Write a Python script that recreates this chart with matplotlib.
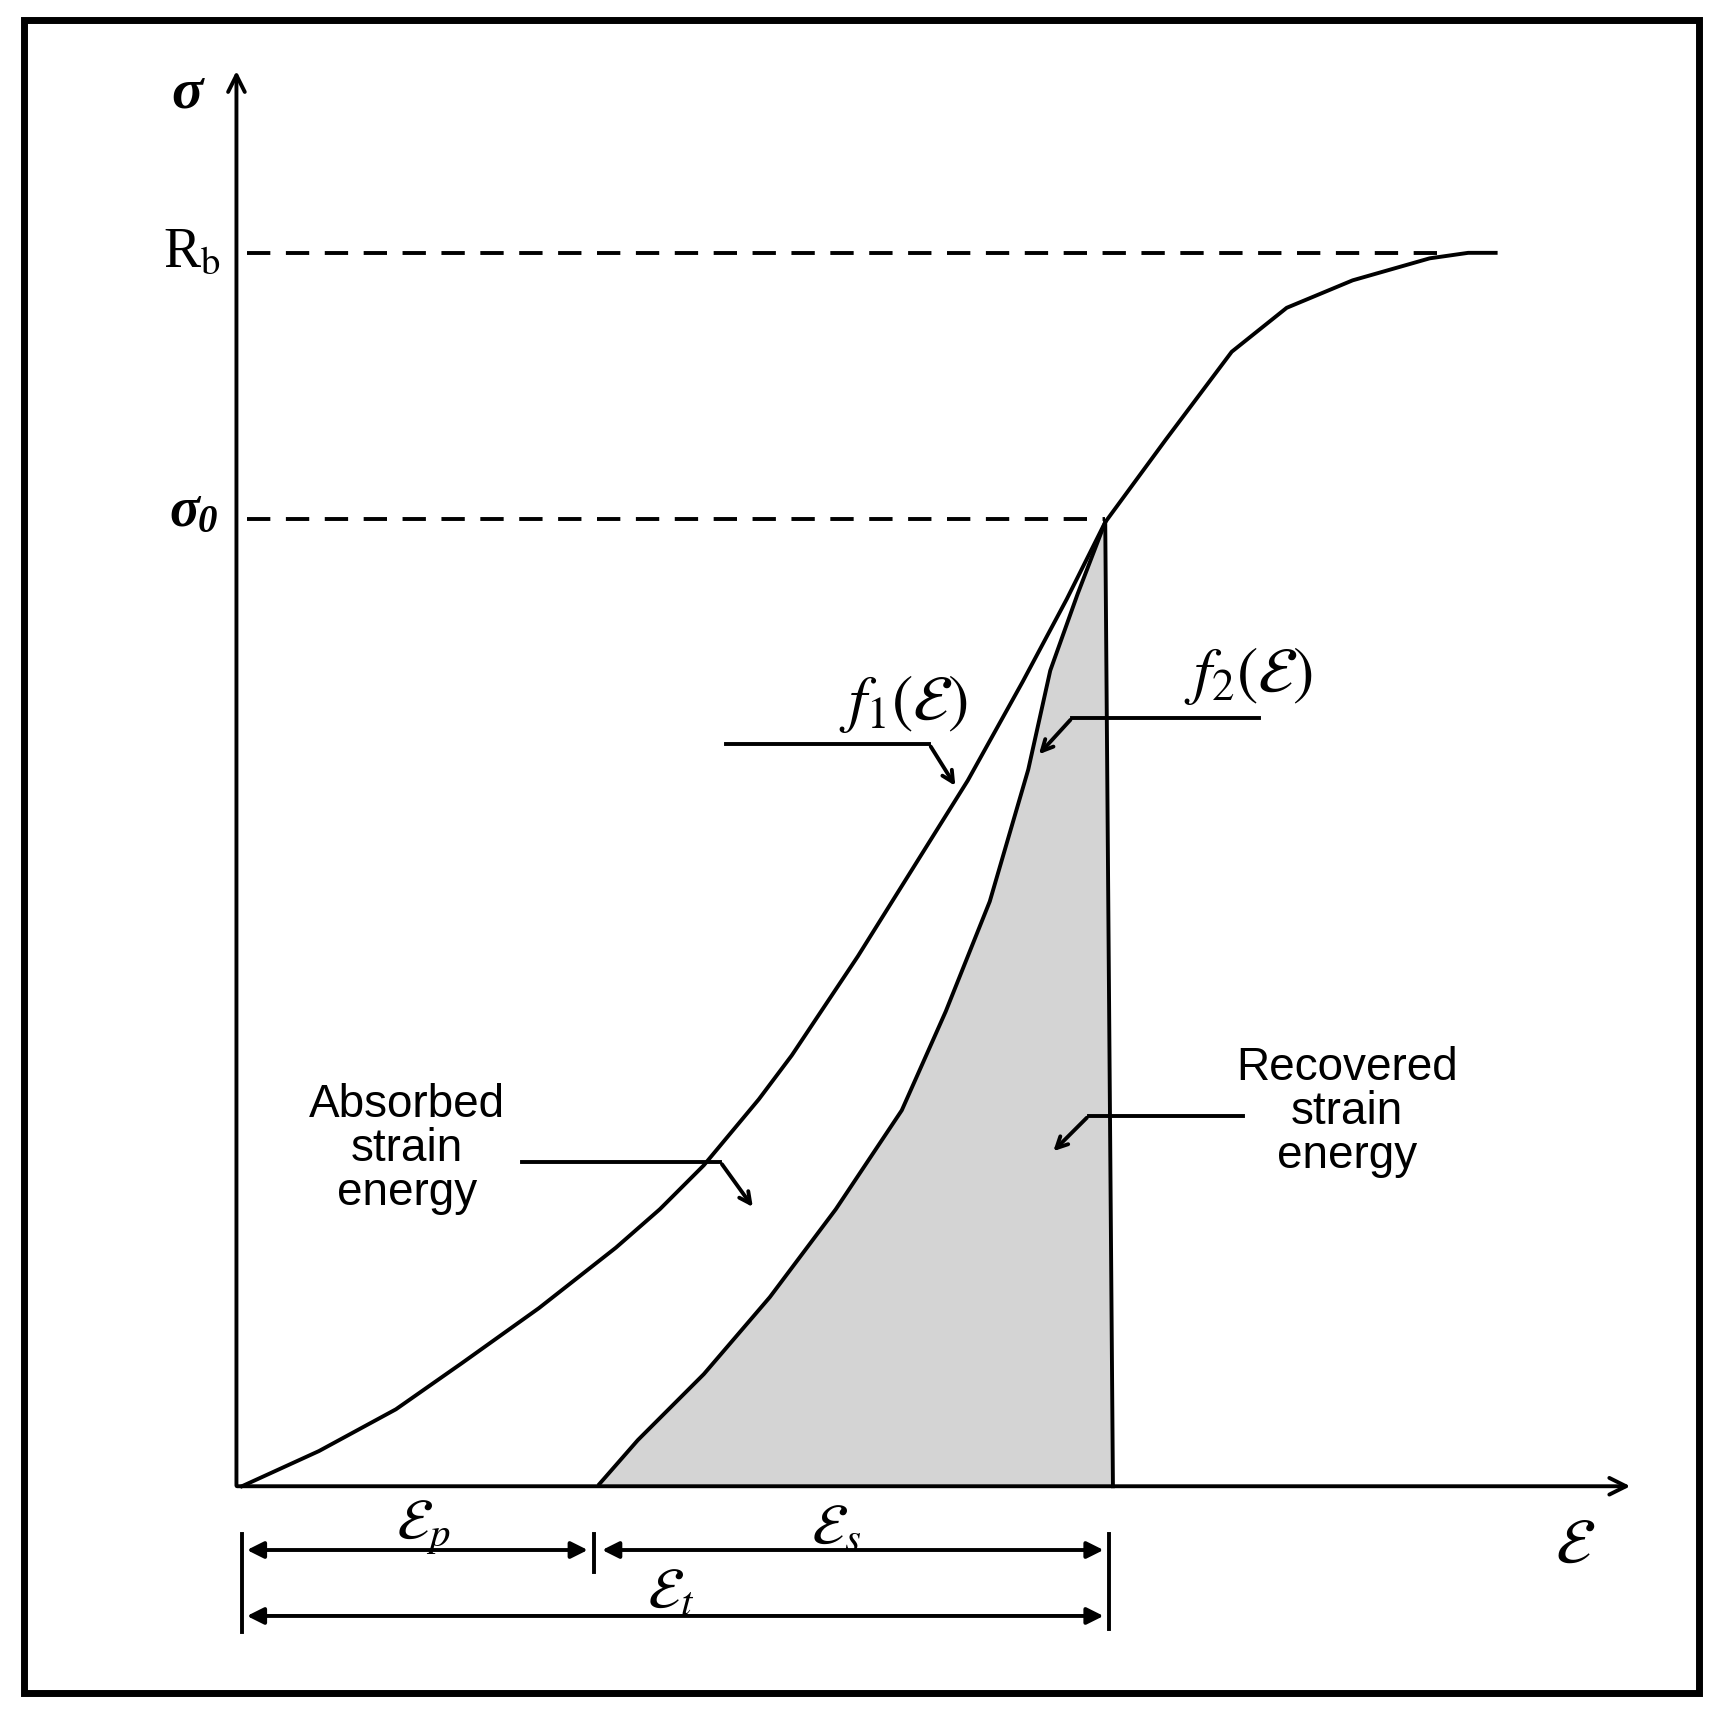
import matplotlib.pyplot as plt
import numpy as np
from matplotlib.patches import Rectangle

plt.rcParams["mathtext.fontset"] = "stix"

# coordinates in reference-image pixels (y down)
W, H = 1564, 1561

f1_x = [220, 290, 360, 420, 490, 560, 600, 640, 690, 720, 780, 830, 880, 930, 970, 1005,
        1060, 1120, 1170, 1230, 1300, 1335, 1360]
f1_y = [1352, 1320, 1282, 1240, 1190, 1135, 1100, 1060, 1000, 960, 870, 790, 710, 620, 545, 475,
        400, 320, 280, 255, 235, 230, 230]
f2_x = [545, 580, 640, 700, 760, 820, 860, 900, 935, 955, 980, 1005]
f2_y = [1350, 1310, 1250, 1180, 1100, 1010, 920, 820, 700, 610, 540, 475]

LW = 2.8

fig = plt.figure(figsize=(17.2, 17.16), dpi=100)
ax = fig.add_axes([0, 0, 1, 1])
ax.set_xlim(0, W)
ax.set_ylim(H, 0)
ax.axis("off")

ax.add_patch(Rectangle((22, 18), 1523, 1522, fill=False, lw=5, ec="black"))

# shaded recovered energy
px = f2_x + [1012, 545]
py = f2_y + [1352, 1352]
ax.fill(px, py, color="#d4d4d4", lw=0)

ax.plot(f1_x, f1_y, color="black", lw=LW)
ax.plot(f2_x, f2_y, color="black", lw=LW)
ax.plot([1005, 1012], [475, 1352], color="black", lw=LW)

# axes
arrow = dict(arrowstyle="->", lw=LW, color="black", mutation_scale=30)
ax.annotate("", xy=(215, 62), xytext=(215, 1354), arrowprops=arrow)
ax.annotate("", xy=(1485, 1352), xytext=(213, 1352), arrowprops=arrow)

# dashed lines
ax.plot([225, 1310], [230, 230], color="black", lw=LW, ls=(0, (6, 4)))
ax.plot([225, 1005], [472, 472], color="black", lw=LW, ls=(0, (6, 4)))

serif = "Liberation Serif"
ax.text(170, 85, "σ", fontsize=42, fontweight="bold", fontstyle="italic", family=serif, ha="center", va="center")
ax.text(175, 230, r"R$_\mathrm{b}$", fontsize=40, family=serif, ha="center", va="center")
ax.text(168, 465, "σ", fontsize=40, fontweight="bold", fontstyle="italic", family=serif, ha="center", va="center")
ax.text(189, 475, "0", fontsize=28, fontweight="bold", fontstyle="italic", family=serif, ha="center", va="center")

# f labels
ax.text(822, 640, r"$f_{1}(\mathcal{E})$", fontsize=46, ha="center", va="center")
ax.text(1135, 615, r"$f_{2}(\mathcal{E})$", fontsize=46, ha="center", va="center")

lead = dict(arrowstyle="->", lw=LW, color="black", mutation_scale=20)
ax.plot([660, 845], [677, 677], color="black", lw=LW)
ax.annotate("", xy=(870, 717), xytext=(845, 677), arrowprops=lead)
ax.plot([1145, 975], [653, 653], color="black", lw=LW)
ax.annotate("", xy=(943, 688), xytext=(975, 653), arrowprops=lead)
ax.plot([475, 655], [1057, 1057], color="black", lw=LW)
ax.annotate("", xy=(686, 1100), xytext=(655, 1057), arrowprops=lead)
ax.plot([1130, 990], [1015, 1015], color="black", lw=LW)
ax.annotate("", xy=(956, 1049), xytext=(990, 1015), arrowprops=lead)

sans = "Liberation Sans"
ax.text(370, 1045, "Absorbed\nstrain\nenergy", fontsize=33, family=sans, ha="center", va="center", linespacing=1.0)
ax.text(1225, 1012, "Recovered\nstrain\nenergy", fontsize=33, family=sans, ha="center", va="center", linespacing=1.0)

# dimension arrows
dim = dict(arrowstyle="<|-|>", lw=LW, color="black", mutation_scale=25)
ax.annotate("", xy=(222, 1410), xytext=(537, 1410), arrowprops=dim)
ax.annotate("", xy=(545, 1410), xytext=(1006, 1410), arrowprops=dim)
ax.annotate("", xy=(222, 1470), xytext=(1006, 1470), arrowprops=dim)
for x, y0, y1 in [(220, 1395, 1485), (540, 1395, 1430), (1008, 1395, 1482)]:
    ax.plot([x, x], [y0, y1], color="black", lw=LW)

ax.text(385, 1390, r"$\mathcal{E}_p$", fontsize=42, ha="center", va="center")
ax.text(760, 1390, r"$\mathcal{E}_s$", fontsize=42, ha="center", va="center")
ax.text(610, 1448, r"$\mathcal{E}_t$", fontsize=42, ha="center", va="center")
ax.text(1432, 1405, r"$\mathcal{E}$", fontsize=46, ha="center", va="center")

fig.savefig("out.png", dpi=100)
